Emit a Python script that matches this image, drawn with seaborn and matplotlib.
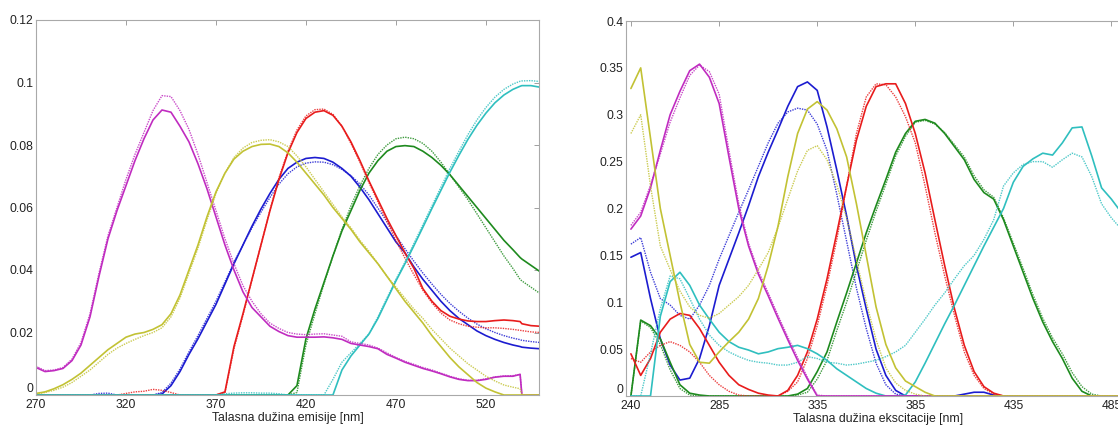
import numpy as np
import pandas as pd
import seaborn as sns
import matplotlib
matplotlib.use('Agg')
import matplotlib.pyplot as plt
from matplotlib.ticker import FuncFormatter

# emission wavelengths (nm) - left panel
em_nm = list(range(270, 540, 5)) + [539, 540, 545, 550]
# excitation wavelengths (nm) - right panel
ex_nm = list(range(240, 495, 5))

# ---- emission spectra (solid / dotted pairs) ----
em_mag_s = [0.0088, 0.0075, 0.0078, 0.0085, 0.011, 0.016, 0.025, 0.038, 0.050, 0.059,
            0.067, 0.075, 0.082, 0.088, 0.0912, 0.0905, 0.086, 0.081, 0.074, 0.066,
            0.057, 0.048, 0.040, 0.033, 0.028, 0.025, 0.022, 0.0203, 0.019, 0.0185,
            0.0185, 0.0185, 0.0186, 0.0183, 0.0178, 0.0165, 0.016, 0.0155, 0.0148, 0.013,
            0.0118, 0.0105, 0.0095, 0.0085, 0.0077, 0.0068, 0.0058, 0.005, 0.0046, 0.0046,
            0.005, 0.0057, 0.006, 0.006, 0.0066, 0, 0, 0]
em_mag_d = [0.0092, 0.0078, 0.008, 0.0088, 0.0115, 0.0168, 0.026, 0.039, 0.051, 0.060,
            0.069, 0.077, 0.084, 0.091, 0.0958, 0.0955, 0.091, 0.085, 0.077, 0.068,
            0.059, 0.050, 0.042, 0.035, 0.030, 0.026, 0.023, 0.0213, 0.020, 0.0195,
            0.0193, 0.0195, 0.0196, 0.0192, 0.0188, 0.0170, 0.0165, 0.016, 0.015, 0.0135,
            0.012, 0.0108, 0.0098, 0.0088, 0.008, 0.007, 0.006, 0.0052, 0.0047, 0.0047,
            0.0052, 0.0058, 0.0061, 0.0062, 0.0066, 0, 0, 0]
em_yel_s = [0.0005, 0.001, 0.002, 0.0033, 0.005, 0.007, 0.0095, 0.012, 0.0145, 0.0165,
            0.0185, 0.0195, 0.020, 0.021, 0.0225, 0.026, 0.032, 0.040, 0.048, 0.057,
            0.065, 0.071, 0.0755, 0.078, 0.0795, 0.0802, 0.0803, 0.0795, 0.0775, 0.0745,
            0.071, 0.0675, 0.064, 0.060, 0.0565, 0.053, 0.049, 0.0455, 0.042, 0.038,
            0.034, 0.030, 0.0265, 0.023, 0.019, 0.0155, 0.012, 0.009, 0.0065, 0.004,
            0.0022, 0.001, 0, 0, 0, 0, 0, 0]
em_yel_d = [0.0003, 0.0008, 0.0015, 0.0025, 0.004, 0.006, 0.008, 0.0105, 0.013, 0.015,
            0.0165, 0.0178, 0.019, 0.020, 0.0215, 0.025, 0.031, 0.039, 0.047, 0.056,
            0.0645, 0.071, 0.076, 0.079, 0.0808, 0.0815, 0.0817, 0.081, 0.0795, 0.0765,
            0.073, 0.069, 0.065, 0.061, 0.057, 0.0535, 0.0495, 0.046, 0.042, 0.038,
            0.0345, 0.031, 0.0275, 0.0245, 0.021, 0.018, 0.015, 0.0125, 0.010, 0.008,
            0.006, 0.0045, 0.0032, 0.0025, 0.002, 0, 0, 0]
em_blu_s = [0, 0, 0, 0, 0, 0, 0, 0, 0, 0,
            0, 0, 0, 0, 0.0003, 0.003, 0.0075, 0.013, 0.018, 0.0235,
            0.029, 0.0355, 0.042, 0.048, 0.054, 0.0595, 0.0645, 0.069, 0.0725, 0.0745,
            0.0757, 0.076, 0.0757, 0.0745, 0.0725, 0.070, 0.0665, 0.0625, 0.058, 0.0535,
            0.049, 0.0455, 0.041, 0.037, 0.0335, 0.030, 0.027, 0.0245, 0.0225, 0.0205,
            0.019, 0.0178, 0.0168, 0.016, 0.0155, 0.0153, 0.015, 0.0148]
em_blu_d = [0, 0, 0, 0, 0, 0, 0, 0.0005, 0.0006, 0,
            0, 0, 0, 0, 0.0008, 0.0038, 0.0083, 0.0138, 0.019, 0.0245,
            0.030, 0.0362, 0.0425, 0.048, 0.0535, 0.0585, 0.0632, 0.0675, 0.0708, 0.073,
            0.0742, 0.0746, 0.0745, 0.0737, 0.0722, 0.0702, 0.0675, 0.064, 0.0598, 0.0555,
            0.051, 0.0468, 0.0428, 0.039, 0.0355, 0.0322, 0.0293, 0.0268, 0.0246, 0.0227,
            0.0212, 0.020, 0.019, 0.0182, 0.0177, 0.0175, 0.0171, 0.0168]
em_red_s = [0, 0, 0, 0, 0, 0, 0, 0, 0, 0,
            0, 0, 0, 0, 0, 0, 0, 0, 0, 0,
            0, 0.001, 0.0155, 0.026, 0.037, 0.048, 0.059, 0.069, 0.0775, 0.084,
            0.0885, 0.0905, 0.091, 0.0895, 0.086, 0.081, 0.075, 0.0685, 0.0625, 0.0565,
            0.051, 0.0455, 0.0405, 0.034, 0.030, 0.027, 0.0252, 0.0243, 0.0237, 0.0235,
            0.0235, 0.0238, 0.024, 0.0238, 0.0235, 0.0228, 0.0222, 0.022]
em_red_d = [0, 0, 0, 0, 0, 0, 0, 0, 0, 0,
            0.0005, 0.001, 0.0012, 0.0018, 0.0015, 0.0008, 0, 0, 0, 0,
            0, 0.0008, 0.0148, 0.0255, 0.0368, 0.048, 0.0592, 0.0695, 0.078, 0.0848,
            0.0893, 0.0913, 0.0915, 0.0898, 0.086, 0.0805, 0.0745, 0.068, 0.0618, 0.0555,
            0.0495, 0.0438, 0.0385, 0.0335, 0.0295, 0.0262, 0.024, 0.0228, 0.022, 0.0217,
            0.0215, 0.0215, 0.0213, 0.021, 0.0207, 0.0206, 0.0202, 0.020]
em_grn_s = [0, 0, 0, 0, 0, 0, 0, 0, 0, 0,
            0, 0, 0, 0, 0, 0, 0, 0, 0, 0,
            0, 0, 0, 0, 0, 0, 0, 0, 0, 0.003,
            0.018, 0.0275, 0.036, 0.0445, 0.0525, 0.059, 0.0655, 0.071, 0.075, 0.078,
            0.0795, 0.0798, 0.0795, 0.078, 0.076, 0.0735, 0.0705, 0.067, 0.0635, 0.060,
            0.0565, 0.053, 0.0495, 0.0465, 0.044, 0.0435, 0.0415, 0.0395]
em_grn_d = [0, 0, 0, 0, 0, 0, 0, 0, 0, 0,
            0, 0, 0, 0, 0, 0, 0, 0, 0, 0,
            0, 0, 0, 0, 0, 0, 0, 0, 0, 0.0008,
            0.016, 0.026, 0.0355, 0.0445, 0.053, 0.0605, 0.067, 0.0725, 0.077, 0.080,
            0.082, 0.0825, 0.082, 0.0805, 0.078, 0.0745, 0.0705, 0.0665, 0.0625, 0.058,
            0.0535, 0.049, 0.0445, 0.0405, 0.037, 0.0365, 0.0345, 0.0325]
em_cya_s = [0, 0, 0, 0, 0, 0, 0, 0, 0, 0,
            0, 0, 0, 0, 0, 0, 0, 0, 0, 0,
            0, 0, 0, 0, 0, 0, 0, 0, 0, 0,
            0, 0, 0, 0, 0.008, 0.0125, 0.016, 0.0195, 0.0245, 0.0305,
            0.0365, 0.042, 0.0478, 0.0537, 0.0597, 0.0655, 0.0713, 0.0767, 0.0818, 0.0863,
            0.0902, 0.0935, 0.096, 0.0978, 0.0988, 0.099, 0.099, 0.0985]
em_cya_d = [0, 0, 0, 0, 0, 0, 0, 0, 0, 0,
            0, 0, 0, 0, 0, 0, 0, 0, 0, 0,
            0, 0.0004, 0.0006, 0.0007, 0.0007, 0.0006, 0.0006, 0.0004, 0, 0,
            0, 0, 0, 0.005, 0.0105, 0.0135, 0.0165, 0.0195, 0.025, 0.031,
            0.037, 0.0425, 0.0485, 0.0545, 0.0605, 0.0665, 0.0725, 0.078, 0.0833, 0.088,
            0.092, 0.0953, 0.0978, 0.0995, 0.1004, 0.1005, 0.1006, 0.1003]

# ---- excitation spectra (solid / dotted pairs) ----
ex_mag_s = [0.178, 0.192, 0.222, 0.262, 0.300, 0.325, 0.347, 0.354, 0.340, 0.312,
            0.255, 0.200, 0.160, 0.130, 0.107, 0.083, 0.060, 0.038, 0.018, 0,
            0, 0, 0, 0, 0, 0, 0, 0, 0, 0,
            0, 0, 0, 0, 0, 0, 0, 0, 0, 0,
            0, 0, 0, 0, 0, 0, 0, 0, 0, 0,
            0]
ex_mag_d = [0.182, 0.196, 0.225, 0.258, 0.292, 0.318, 0.342, 0.353, 0.346, 0.322,
            0.262, 0.205, 0.163, 0.133, 0.110, 0.086, 0.063, 0.041, 0.020, 0.001,
            0, 0, 0, 0, 0, 0, 0, 0, 0, 0,
            0, 0, 0, 0, 0, 0, 0, 0, 0, 0,
            0, 0, 0, 0, 0, 0, 0, 0, 0, 0,
            0]
ex_yel_s = [0.328, 0.350, 0.275, 0.200, 0.150, 0.100, 0.055, 0.036, 0.035, 0.047,
            0.058, 0.068, 0.082, 0.104, 0.139, 0.181, 0.234, 0.280, 0.306, 0.314,
            0.305, 0.285, 0.255, 0.205, 0.150, 0.095, 0.055, 0.030, 0.016, 0.010,
            0.004, 0, 0, 0, 0, 0, 0, 0, 0, 0,
            0, 0, 0, 0, 0, 0, 0, 0, 0, 0,
            0]
ex_yel_d = [0.280, 0.300, 0.224, 0.160, 0.135, 0.112, 0.095, 0.086, 0.083, 0.088,
            0.097, 0.106, 0.118, 0.135, 0.153, 0.180, 0.210, 0.240, 0.262, 0.267,
            0.252, 0.225, 0.190, 0.145, 0.100, 0.060, 0.030, 0.014, 0.006, 0.002,
            0, 0, 0, 0, 0, 0, 0, 0, 0, 0,
            0, 0, 0, 0, 0, 0, 0, 0, 0, 0,
            0]
ex_blu_s = [0.148, 0.153, 0.104, 0.061, 0.033, 0.017, 0.019, 0.040, 0.075, 0.118,
            0.146, 0.174, 0.203, 0.234, 0.260, 0.284, 0.309, 0.330, 0.335, 0.326,
            0.287, 0.241, 0.192, 0.139, 0.093, 0.050, 0.022, 0.006, 0, 0,
            0, 0, 0, 0, 0.002, 0.004, 0.004, 0.001, 0, 0,
            0, 0, 0, 0, 0, 0, 0, 0, 0, 0,
            0]
ex_blu_d = [0.162, 0.169, 0.132, 0.104, 0.097, 0.086, 0.082, 0.097, 0.118, 0.146,
            0.171, 0.196, 0.220, 0.245, 0.270, 0.291, 0.303, 0.307, 0.305, 0.290,
            0.262, 0.215, 0.165, 0.115, 0.072, 0.035, 0.012, 0.002, 0, 0,
            0, 0, 0, 0, 0, 0, 0, 0, 0, 0,
            0, 0, 0, 0, 0, 0, 0, 0, 0, 0,
            0]
ex_red_s = [0.045, 0.022, 0.040, 0.068, 0.082, 0.088, 0.086, 0.072, 0.054, 0.036,
            0.022, 0.012, 0.007, 0.003, 0.001, 0, 0.006, 0.022, 0.047, 0.082,
            0.125, 0.174, 0.224, 0.273, 0.309, 0.330, 0.333, 0.333, 0.312, 0.280,
            0.238, 0.188, 0.139, 0.093, 0.054, 0.026, 0.010, 0.003, 0, 0,
            0, 0, 0, 0, 0, 0, 0, 0, 0, 0,
            0]
ex_red_d = [0.040, 0.036, 0.047, 0.054, 0.058, 0.054, 0.047, 0.036, 0.022, 0.012,
            0.005, 0.001, 0, 0, 0, 0, 0.005, 0.015, 0.040, 0.075,
            0.118, 0.167, 0.224, 0.280, 0.319, 0.333, 0.332, 0.319, 0.298, 0.270,
            0.224, 0.174, 0.128, 0.086, 0.047, 0.022, 0.008, 0.002, 0, 0,
            0, 0, 0, 0, 0, 0, 0, 0, 0, 0,
            0]
ex_grn_s = [0, 0.081, 0.075, 0.061, 0.036, 0.012, 0.003, 0.001, 0, 0,
            0, 0, 0, 0, 0, 0, 0, 0.002, 0.008, 0.026,
            0.047, 0.079, 0.110, 0.142, 0.174, 0.203, 0.231, 0.260, 0.280, 0.293,
            0.295, 0.291, 0.280, 0.266, 0.252, 0.231, 0.217, 0.210, 0.188, 0.160,
            0.132, 0.104, 0.079, 0.058, 0.040, 0.019, 0.005, 0, 0, 0,
            0]
ex_grn_d = [0, 0.080, 0.073, 0.055, 0.028, 0.008, 0.001, 0, 0, 0,
            0, 0, 0, 0, 0, 0, 0, 0.001, 0.004, 0.018,
            0.038, 0.070, 0.100, 0.133, 0.166, 0.197, 0.226, 0.256, 0.277, 0.292,
            0.294, 0.290, 0.281, 0.268, 0.255, 0.235, 0.220, 0.212, 0.190, 0.163,
            0.136, 0.108, 0.083, 0.062, 0.045, 0.025, 0.010, 0.002, 0, 0,
            0]
ex_cya_s = [0, 0, 0, 0.085, 0.122, 0.132, 0.118, 0.097, 0.082, 0.068,
            0.058, 0.052, 0.049, 0.045, 0.047, 0.0505, 0.052, 0.054, 0.0505, 0.045,
            0.038, 0.029, 0.022, 0.015, 0.008, 0.003, 0, 0, 0.001, 0.015,
            0.035, 0.056, 0.077, 0.097, 0.118, 0.139, 0.160, 0.180, 0.200, 0.228,
            0.245, 0.253, 0.259, 0.257, 0.270, 0.286, 0.287, 0.256, 0.222, 0.210,
            0.196]
ex_cya_d = [0, 0, 0.045, 0.093, 0.128, 0.125, 0.104, 0.082, 0.065, 0.054,
            0.047, 0.042, 0.038, 0.036, 0.035, 0.033, 0.033, 0.036, 0.042, 0.040,
            0.036, 0.035, 0.033, 0.034, 0.036, 0.038, 0.042, 0.047, 0.054, 0.068,
            0.082, 0.097, 0.110, 0.125, 0.139, 0.150, 0.167, 0.188, 0.224, 0.238,
            0.247, 0.250, 0.250, 0.244, 0.252, 0.259, 0.255, 0.234, 0.205, 0.190,
            0.178]

# matlab-like colours
colors = {'mag': '#c02cc0', 'yel': '#c2c234', 'blu': '#1c1cd0',
          'red': '#e81c1c', 'grn': '#1e8a1e', 'cya': '#2fbfbf'}

em_series = [('blu', em_blu_s, em_blu_d), ('grn', em_grn_s, em_grn_d),
             ('red', em_red_s, em_red_d), ('cya', em_cya_s, em_cya_d),
             ('mag', em_mag_s, em_mag_d), ('yel', em_yel_s, em_yel_d)]
ex_series = [('blu', ex_blu_s, ex_blu_d), ('grn', ex_grn_s, ex_grn_d),
             ('red', ex_red_s, ex_red_d), ('cya', ex_cya_s, ex_cya_d),
             ('mag', ex_mag_s, ex_mag_d), ('yel', ex_yel_s, ex_yel_d)]

sns.set_style('white')
plt.rcParams['font.family'] = ['Liberation Sans', 'DejaVu Sans']

fig = plt.figure(figsize=(11.18, 4.25), dpi=100)
ax1 = fig.add_axes([36/1118, 1-395/425, 503/1118, 375/425])
ax2 = fig.add_axes([626/1118, 1-396/425, 505/1118, 375/425])


def draw(ax, x, series):
    for key, ys, yd in series:
        assert len(ys) == len(x) and len(yd) == len(x), key
        sns.lineplot(x=x, y=ys, ax=ax, color=colors[key], linewidth=1.2)
        sns.lineplot(x=x, y=yd, ax=ax, color=colors[key], linewidth=1.0,
                     linestyle=(0, (1, 0.8)), alpha=0.85)


draw(ax1, em_nm, em_series)
draw(ax2, ex_nm, ex_series)

fmt = FuncFormatter(lambda v, p: '%g' % round(v, 4))
for ax in (ax1, ax2):
    for s in ax.spines.values():
        s.set_color('#a9a9a9')
        s.set_linewidth(0.8)
    ax.tick_params(direction='in', length=3.5, width=0.7, color='#a0a0a0',
                   top=True, right=True, labelsize=8.7, labelcolor='#222222', pad=2)
    ax.tick_params(axis='x', pad=3)
    ax.yaxis.set_major_formatter(fmt)
    ax.set_ylabel('')

ax1.set_xlim(270, 549.5)
ax1.set_ylim(0, 0.12)
ax1.set_xticks([270, 320, 370, 420, 470, 520])
ax1.set_yticks([0, 0.02, 0.04, 0.06, 0.08, 0.1, 0.12])
ax1.set_xlabel('Talasna dužina emisije [nm]', fontsize=8.8, color='#222222', labelpad=0.5)

ax2.set_xlim(237.5, 495)
ax2.set_ylim(0, 0.4)
ax2.set_xticks([240, 285, 335, 385, 435, 485])
ax2.set_yticks([0, 0.05, 0.1, 0.15, 0.2, 0.25, 0.3, 0.35, 0.4])
ax2.set_xlabel('Talasna dužina ekscitacije [nm]', fontsize=8.8, color='#222222', labelpad=0.5)

# matlab puts the zero label a bit above the x labels
for ax in (ax1, ax2):
    ax.get_yticklabels()[0].set_verticalalignment('bottom')

fig.savefig('out.png', dpi=100)
